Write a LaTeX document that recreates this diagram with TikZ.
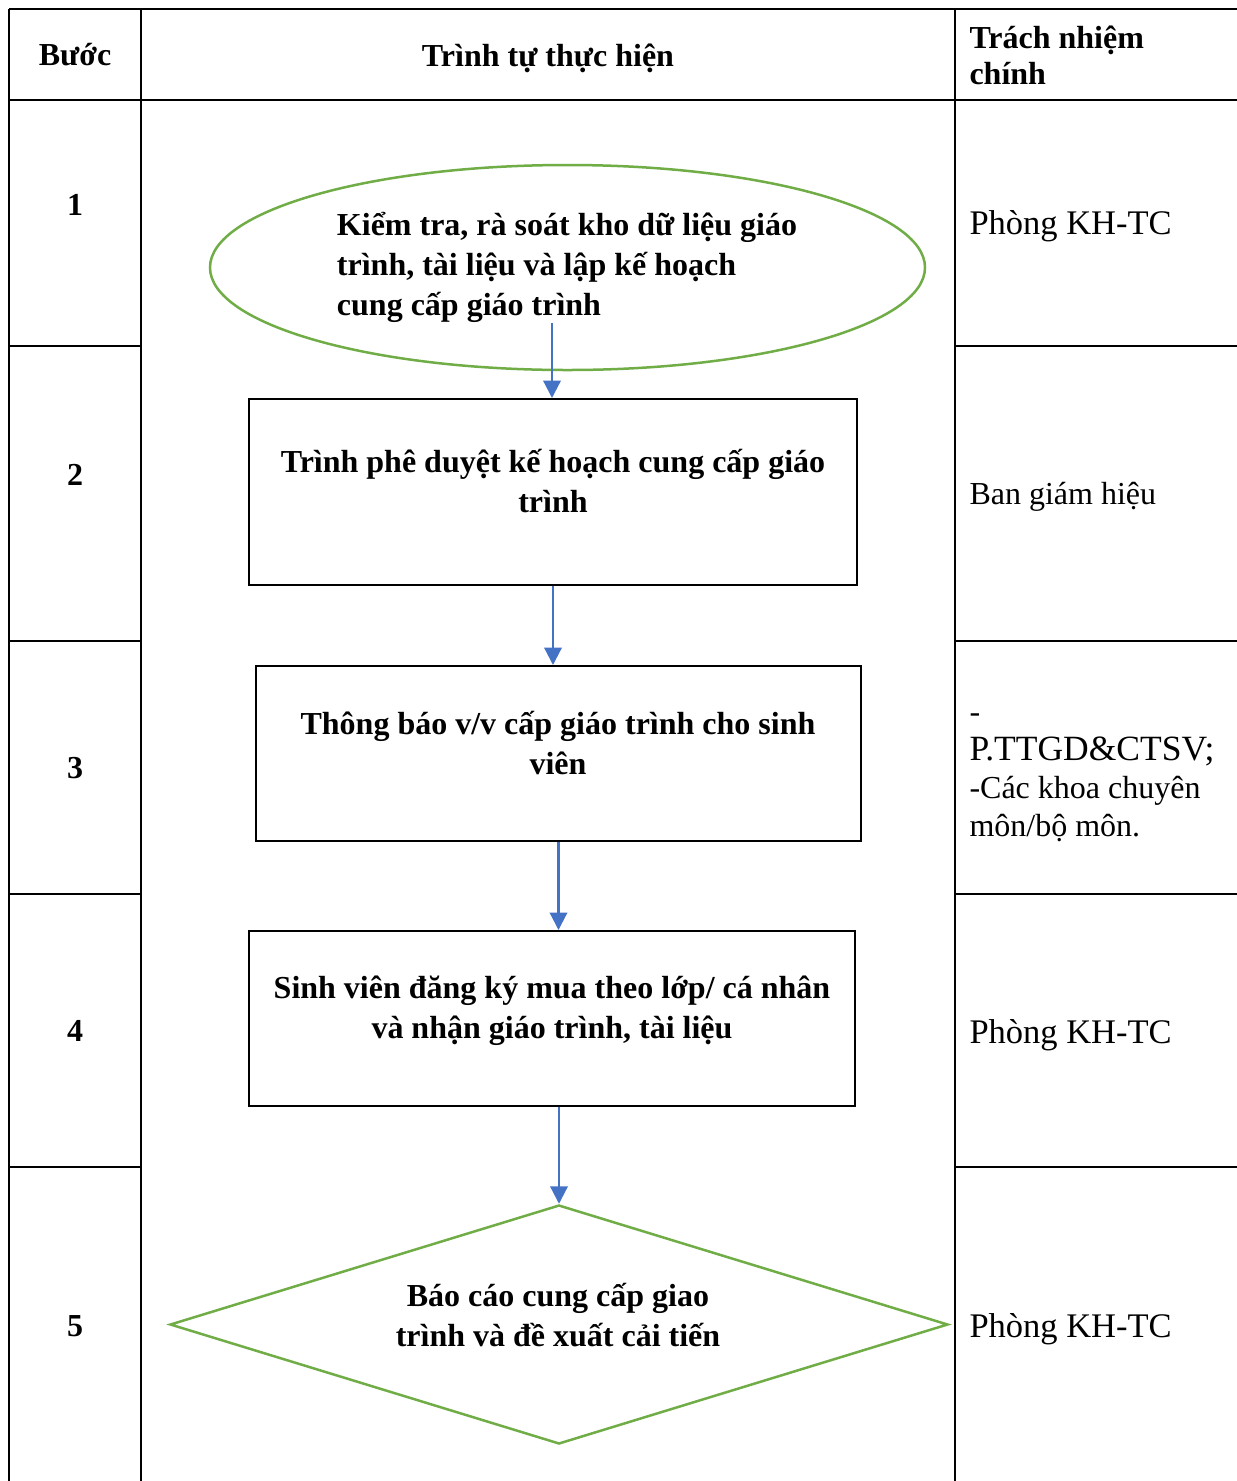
\documentclass[tikz,border=0pt]{standalone}
\usepackage{fontspec}
\setmainfont{Liberation Serif}
\usetikzlibrary{arrows.meta,shapes.geometric}
\definecolor{xanhla}{HTML}{70AD47}
\definecolor{xanhduong}{HTML}{4472C4}
\tikzset{
  tieude/.style={inner sep=0pt,font=\fontsize{12.8}{14.4}\selectfont\bfseries},
  noidung/.style={inner sep=0pt,align=center,font=\fontsize{12.8}{16}\selectfont\bfseries},
  trachnhiem/.style={inner sep=0pt,anchor=west,align=left,font=\fontsize{13.8}{15.2}\selectfont},
  hop/.style={draw=black,line width=0.8pt,rectangle,inner sep=0pt},
  khungxanh/.style={draw=xanhla,line width=1pt,inner sep=0pt},
  muiten/.style={xanhduong,line width=0.9pt,-{Triangle[width=7pt,length=7pt]}},
}

\begin{document}
\begin{tikzpicture}[x=0.4pt,y=-0.4pt]
    \useasboundingbox (0,0) rectangle (1237,1481);
    % khung bang
    \draw[line width=0.8pt] (9,9)--(1237,9);
    \draw[line width=0.8pt] (9,100)--(1237,100);
    \foreach \x in {9,141,955}{\draw[line width=0.8pt] (\x,9)--(\x,1481);}
    \foreach \y in {346,641,894,1167}{
        \draw[line width=0.8pt] (9,\y)--(141,\y);
        \draw[line width=0.8pt] (955,\y)--(1237,\y);
    }

    % tieu de
    \node[tieude] (hBuoc) at (75,55) {Bước};
    \node[tieude] (hTrinhTu) at (548,58) {Trình tự thực hiện};
    \node[tieude,anchor=west,align=left] (hTrachNhiem) at (969,55) {Trách nhiệm\\chính};

    % cot buoc
    \node[tieude] (so1) at (75,205) {1};
    \node[tieude] (so2) at (75,475) {2};
    \node[tieude] (so3) at (75,768) {3};
    \node[tieude] (so4) at (75,1031) {4};
    \node[tieude] (so5) at (75,1326) {5};

    % luu do
    \node[khungxanh,ellipse,minimum width=286pt,minimum height=82pt] (elip1) at (567.5,267.5) {};
    \node[noidung,align=left] (chu1) at (567,267) {Kiểm tra, rà soát kho dữ liệu giáo\\trình, tài liệu và lập kế hoạch\\cung cấp giáo trình};
    \node[hop,minimum width=243.2pt,minimum height=74.4pt] (hop2) at (553,492) {};
    \node[noidung] (chu2) at (553,481) {Trình phê duyệt kế hoạch cung cấp giáo\\trình};
    \node[hop,minimum width=242pt,minimum height=70pt] (hop3) at (558.5,753.5) {};
    \node[noidung] (chu3) at (558,743) {Thông báo v/v cấp giáo trình cho sinh\\viên};
    \node[hop,minimum width=242.4pt,minimum height=70pt] (hop4) at (552,1018.5) {};
    \node[noidung] (chu4) at (552,1011) {Sinh viên đăng ký mua theo lớp/ cá nhân\\và nhận giáo trình, tài liệu};
    \node[khungxanh,diamond,minimum width=311.2pt,minimum height=95.6pt] (thoi5) at (559,1324.5) {};
    \node[noidung] (chu5) at (558,1315) {Báo cáo cung cấp giao\\trình và đề xuất cải tiến};

    \coordinate (dau1) at (552,323);
    \draw[muiten] (dau1) -- (dau1 |- hop2.north);
    \draw[muiten] (hop2.south) -- (hop2.south |- hop3.north);
    \draw[muiten] (hop3.south) -- (hop3.south |- hop4.north);
    \draw[muiten] (thoi5.north |- hop4.south) -- (thoi5.north);

    % cot trach nhiem
    \node[trachnhiem] (tn1) at (969,226) {Phòng KH-TC};
    \node[trachnhiem,font=\fontsize{12.8}{15.2}\selectfont] (tn2) at (969,497) {Ban giám hiệu};
    \node[trachnhiem,font=\fontsize{12.8}{15.2}\selectfont] (tn3) at (969,778) {-\\{\fontsize{14.2}{15.2}\selectfont P.TTGD\&CTSV;}\\-Các khoa chuyên\\môn/bộ môn.};
    \node[trachnhiem] (tn4) at (969,1035) {Phòng KH-TC};
    \node[trachnhiem] (tn5) at (969,1329) {Phòng KH-TC};
\end{tikzpicture}
\end{document}
